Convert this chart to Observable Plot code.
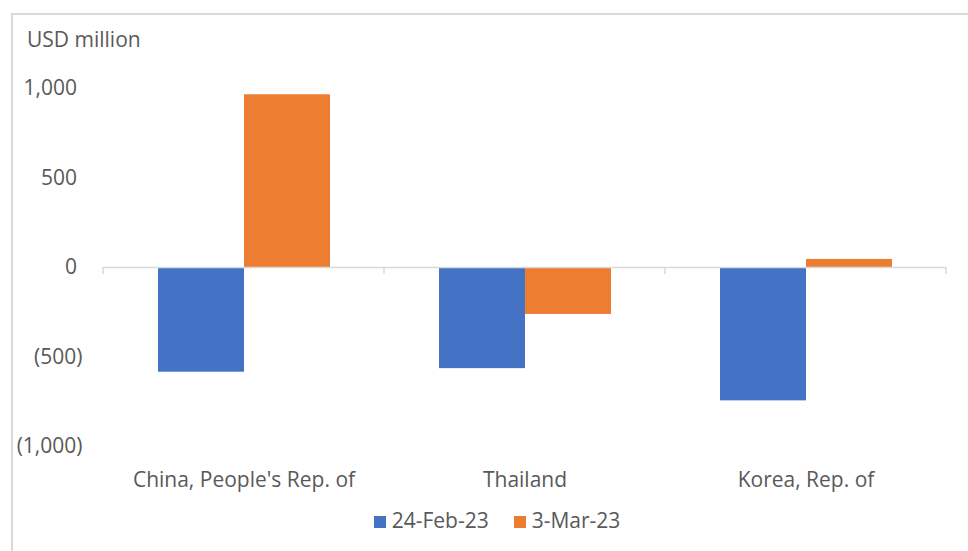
<!DOCTYPE html>
<html>
<head>
<meta charset="utf-8">
<script src="https://cdn.jsdelivr.net/npm/d3@7"></script>
<script src="https://cdn.jsdelivr.net/npm/@observablehq/plot@0.6"></script>
<style>
  html, body { margin: 0; padding: 0; background: #fff; }
  body { width: 968px; height: 551px; position: relative; overflow: hidden; font-family: "Open Sans", sans-serif; color: #595959; }
  #frame { position: absolute; left: 11px; top: 13px; width: 980px; height: 560px; border-top: 2px solid #d9d9d9; border-left: 2px solid #d9d9d9; box-sizing: border-box; }
  #chart { position: absolute; left: 0; top: 0; }
  #unit { position: absolute; left: 27px; top: 25px; font-size: 21px; }
  #legend { position: absolute; top: 506px; left: 0; width: 968px; display: flex; justify-content: center; gap: 25px; font-size: 21px; padding-left: 26px; box-sizing: border-box; }
  #legend span.sw { display: inline-block; width: 12px; height: 12px; margin-right: 6px; vertical-align: 0px; }
</style>
</head>
<body>
<div id="frame"></div>
<div id="chart"></div>
<div id="unit">USD million</div>
<div id="legend"></div>
<script>
const countries = ["China, People's Rep. of", "Thailand", "Korea, Rep. of"];
const seriesNames = ["24-Feb-23", "3-Mar-23"];
const feb24 = [-585, -565, -745];
const mar3 = [965, -262, 45];
const yTicks = [-1000, -500, 0, 500, 1000];
const colors = ["#4472C4", "#ED7D31"];

const data = [];
countries.forEach((c, i) => {
  data.push({country: c, series: seriesNames[0], value: feb24[i]});
  data.push({country: c, series: seriesNames[1], value: mar3[i]});
});

const fmt = d3.format(",");
const plot = Plot.plot({
  width: 968,
  height: 500,
  marginLeft: 103,
  marginRight: 22,
  marginTop: 88,
  marginBottom: 54,
  style: {fontFamily: "Open Sans, sans-serif", fontSize: "21px", color: "#595959", background: "transparent"},
  fx: {domain: countries, padding: 0, label: null},
  x: {domain: seriesNames, paddingInner: 0, paddingOuter: 0.625, axis: null},
  y: {domain: [-1000, 1000], ticks: yTicks, label: null},
  color: {domain: seriesNames, range: colors},
  marks: [
    Plot.axisY({ticks: yTicks, tickSize: 0, tickPadding: 21, tickFormat: d => d < 0 ? `(${fmt(-d)})` : fmt(d) + "\u2008", label: null}),
    Plot.axisFx({anchor: "bottom", tickSize: 0, tickPadding: 26, label: null}),
    Plot.barY(data, {fx: "country", x: "series", y: "value", fill: "series"}),
    Plot.ruleY([0], {stroke: "#d9d9d9", strokeWidth: 1.5})
  ]
});
document.getElementById("chart").appendChild(plot);

// Category tick marks at band edges of the fx scale, below the zero line
const fxs = plot.scale("fx");
const ys = plot.scale("y");
const edges = countries.map(c => fxs.apply(c)).concat([fxs.apply(countries[countries.length - 1]) + fxs.bandwidth]);
const y0 = ys.apply(0);
d3.select(plot).append("g").selectAll("line").data(edges).join("line")
  .attr("x1", d => d).attr("x2", d => d)
  .attr("y1", y0).attr("y2", y0 + 7)
  .attr("stroke", "#d9d9d9").attr("stroke-width", 1.5);

const legend = document.getElementById("legend");
seriesNames.forEach((s, i) => {
  const item = document.createElement("div");
  item.innerHTML = `<span class="sw" style="background:${colors[i]}"></span>${s}`;
  legend.appendChild(item);
});
</script>
</body>
</html>
